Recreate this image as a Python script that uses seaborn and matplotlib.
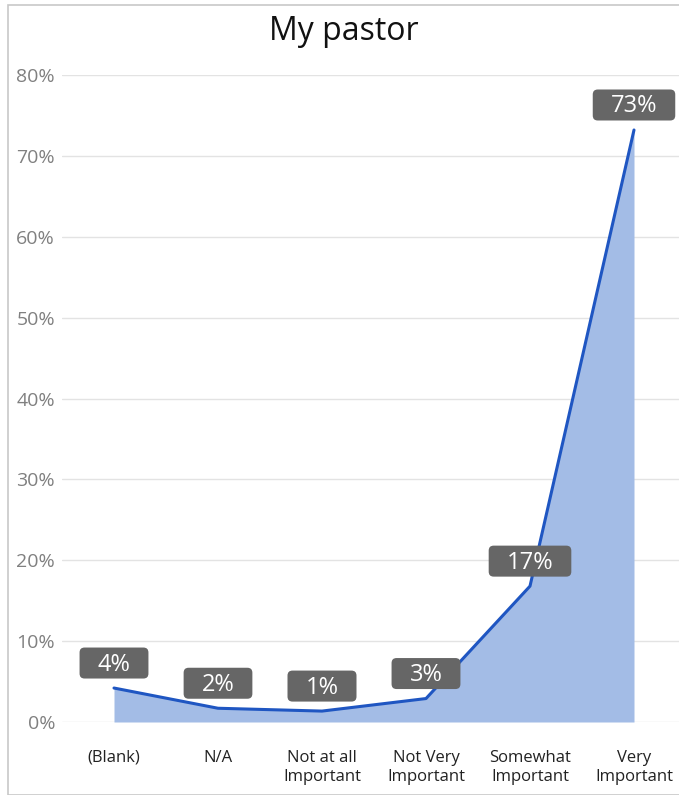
import matplotlib
matplotlib.use("Agg")
import matplotlib.pyplot as plt
import seaborn as sns
import pandas as pd
from matplotlib.patches import Rectangle, FancyBboxPatch
from matplotlib.transforms import IdentityTransform

categories = ["(Blank)", "N/A", "Not at all\nImportant", "Not Very\nImportant", "Somewhat\nImportant", "Very\nImportant"]
values = [4.2, 1.7, 1.35, 2.9, 16.8, 73.2]
labels = ["4%", "2%", "1%", "3%", "17%", "73%"]
yticks = [0, 10, 20, 30, 40, 50, 60, 70, 80]
title = "My pastor"

sns.set_theme(style="white")
plt.rcParams['font.family'] = ['Open Sans', 'DejaVu Sans']

df = pd.DataFrame({"x": list(range(len(categories))), "y": values})

fig = plt.figure(figsize=(6.79, 7.95), dpi=100)
ax = fig.add_axes([62/679, 1-722/795, 624/679, (722-75)/795])

ax.fill_between(df["x"], df["y"], 0, color="#a3bce6", linewidth=0, zorder=1)
sns.lineplot(data=df, x="x", y="y", ax=ax, color="#1f56c2", linewidth=2.2, zorder=3)

ax.set_xlim(-0.5, 5.5)
ax.set_ylim(0, 80)
ax.set_yticks(yticks)
ax.set_yticklabels([f"{t}%" for t in yticks], color="#808080", fontsize=14)
ax.set_xticks(range(len(categories)))
ax.set_xticklabels(categories, color="#222222", fontsize=12, linespacing=1.25)
ax.tick_params(axis="y", length=0, pad=5)
ax.tick_params(axis="x", length=0, pad=20)
ax.grid(axis="y", color="#e3e3e3", linewidth=1)
ax.set_axisbelow(True)
for s in ax.spines.values():
    s.set_visible(False)
ax.set_xlabel("")
ax.set_ylabel("")

renderer = fig.canvas.get_renderer()
for xi, (v, lab) in enumerate(zip(values, labels)):
    px, py = ax.transData.transform((xi, v))
    cy = py + 25
    t = fig.text(px, cy - 1.5, lab, ha="center", va="center", color="white", fontsize=17,
                 transform=IdentityTransform(), zorder=6)
    w = t.get_window_extent(renderer).width + 36
    h = 31
    box = FancyBboxPatch((px - w/2, cy - h/2), w, h,
                         boxstyle="round,pad=0,rounding_size=5",
                         fc="#666666", ec="none", transform=IdentityTransform(), zorder=5)
    fig.patches.append(box)

fig.text(0.5 + 0.5*(8/679), 1 - 32/795, title, ha="center", va="center", fontsize=23, color="#111111")

fig.patches.append(Rectangle((8/679, 0), 1.0, 1 - 5/795, transform=fig.transFigure,
                             fill=False, ec="#c8c8c8", lw=1.2, zorder=0))

fig.savefig("out.png", dpi=100, facecolor="white")
